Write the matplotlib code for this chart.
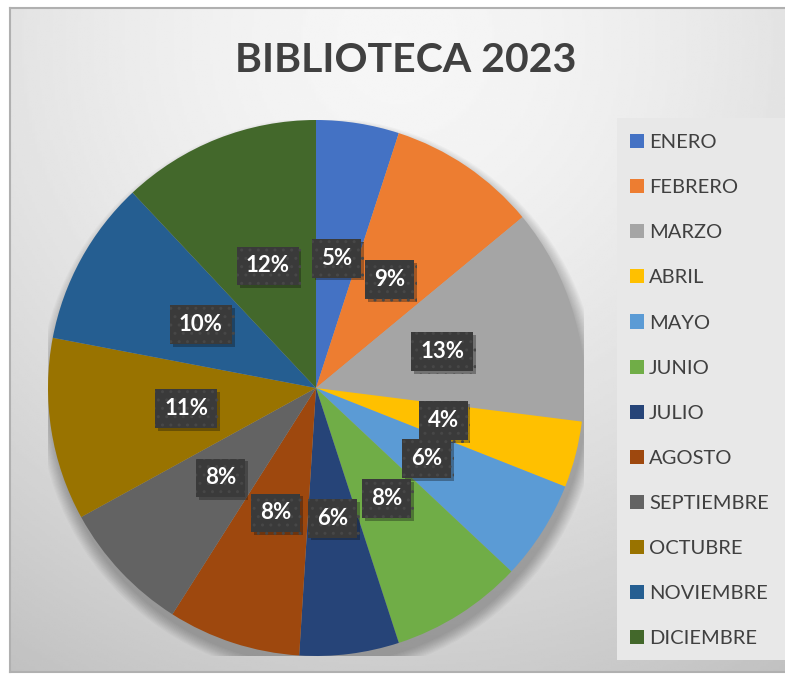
import numpy as np
import matplotlib.pyplot as plt
from matplotlib.patches import Patch, Rectangle
import matplotlib.patheffects as pe

plt.rcParams['font.family'] = ['Lato', 'DejaVu Sans']
plt.rcParams['hatch.linewidth'] = 1.0

meses = ['ENERO', 'FEBRERO', 'MARZO', 'ABRIL', 'MAYO', 'JUNIO', 'JULIO',
         'AGOSTO', 'SEPTIEMBRE', 'OCTUBRE', 'NOVIEMBRE', 'DICIEMBRE']
porcentajes = [5, 9, 13, 4, 6, 8, 6, 8, 8, 11, 10, 12]
colores = ['#4472C4', '#ED7D31', '#A5A5A5', '#FFC000', '#5B9BD5', '#70AD47',
           '#264478', '#9E480E', '#636363', '#997300', '#255E91', '#43682B']

W, H = 785, 682
fig = plt.figure(figsize=(W / 100, H / 100), dpi=100)
fig.patch.set_facecolor('white')

# fondo del area del grafico con degradado
bg = fig.add_axes([10 / W, 10 / H, 775 / W, 664 / H])
gx, gy = np.meshgrid(np.linspace(0, 1, 300), np.linspace(0, 1, 300))
d = np.sqrt(((gx - 0.5) / 0.9) ** 2 + ((gy - 0.05) / 1.05) ** 2)
val = 0.965 - 0.19 * np.clip(d, 0, 1.2) ** 1.6
bg.imshow(val, cmap='gray', vmin=0, vmax=1, extent=(0, 1, 0, 1),
          aspect='auto', origin='upper')
bg.set_xticks([])
bg.set_yticks([])
for s in bg.spines.values():
    s.set_color('#b0b0b0')
    s.set_linewidth(1.5)
bg.spines['right'].set_visible(False)

# caja de la leyenda
bg.add_patch(Rectangle(((617 - 10) / 775, (672 - 660) / 664), 1, (660 - 118) / 664,
                       transform=bg.transAxes, facecolor='#e8e8e8', edgecolor='none'))

# sombra suave del pie
sh = fig.add_axes([(316 - 268) / W, (H - 388 - 268) / H, 536 / W, 536 / H])
sh.set_xlim(-1, 1)
sh.set_ylim(-1, 1)
sh.axis('off')
for k in range(12):
    r = 1.0 + 0.004 * k
    sh.add_patch(plt.Circle((0.01, -0.035), r, color='black', alpha=0.025, lw=0))

ax = fig.add_axes([(316 - 268) / W, (H - 388 - 268) / H, 536 / W, 536 / H])
wedges, texts, autotexts = ax.pie(
    porcentajes, colors=colores, startangle=90, counterclock=False,
    autopct='%d%%', pctdistance=0.49,
    wedgeprops=dict(linewidth=0),
    textprops=dict(color='white', fontsize=16, fontweight='bold'))
ax.set_xlim(-1, 1)
ax.set_ylim(-1, 1)
ax.set_aspect('equal')

for t in autotexts:
    t.set_bbox(dict(boxstyle='square,pad=0.4', facecolor='#3a3a3a',
                    edgecolor='#474747', linewidth=0, hatch='..'))
    t.get_bbox_patch().set_path_effects(
        [pe.SimplePatchShadow(offset=(2, -2), alpha=0.35), pe.Normal()])

fig.text(406 / W, 1 - 60 / H, 'BIBLIOTECA 2023', ha='center', va='center',
         fontsize=29.5, fontweight='bold', color='#404040')

handles = [Patch(facecolor=c, edgecolor='none') for c in colores]
fig.legend(handles, meses, loc='upper left', bbox_to_anchor=(620 / W, 1 - 124 / H),
           frameon=False, fontsize=14.5, labelcolor='#404040',
           handlelength=0.7, handleheight=0.7, handletextpad=0.25,
           labelspacing=1.39, borderpad=0)

fig.savefig('out.png', dpi=100)
